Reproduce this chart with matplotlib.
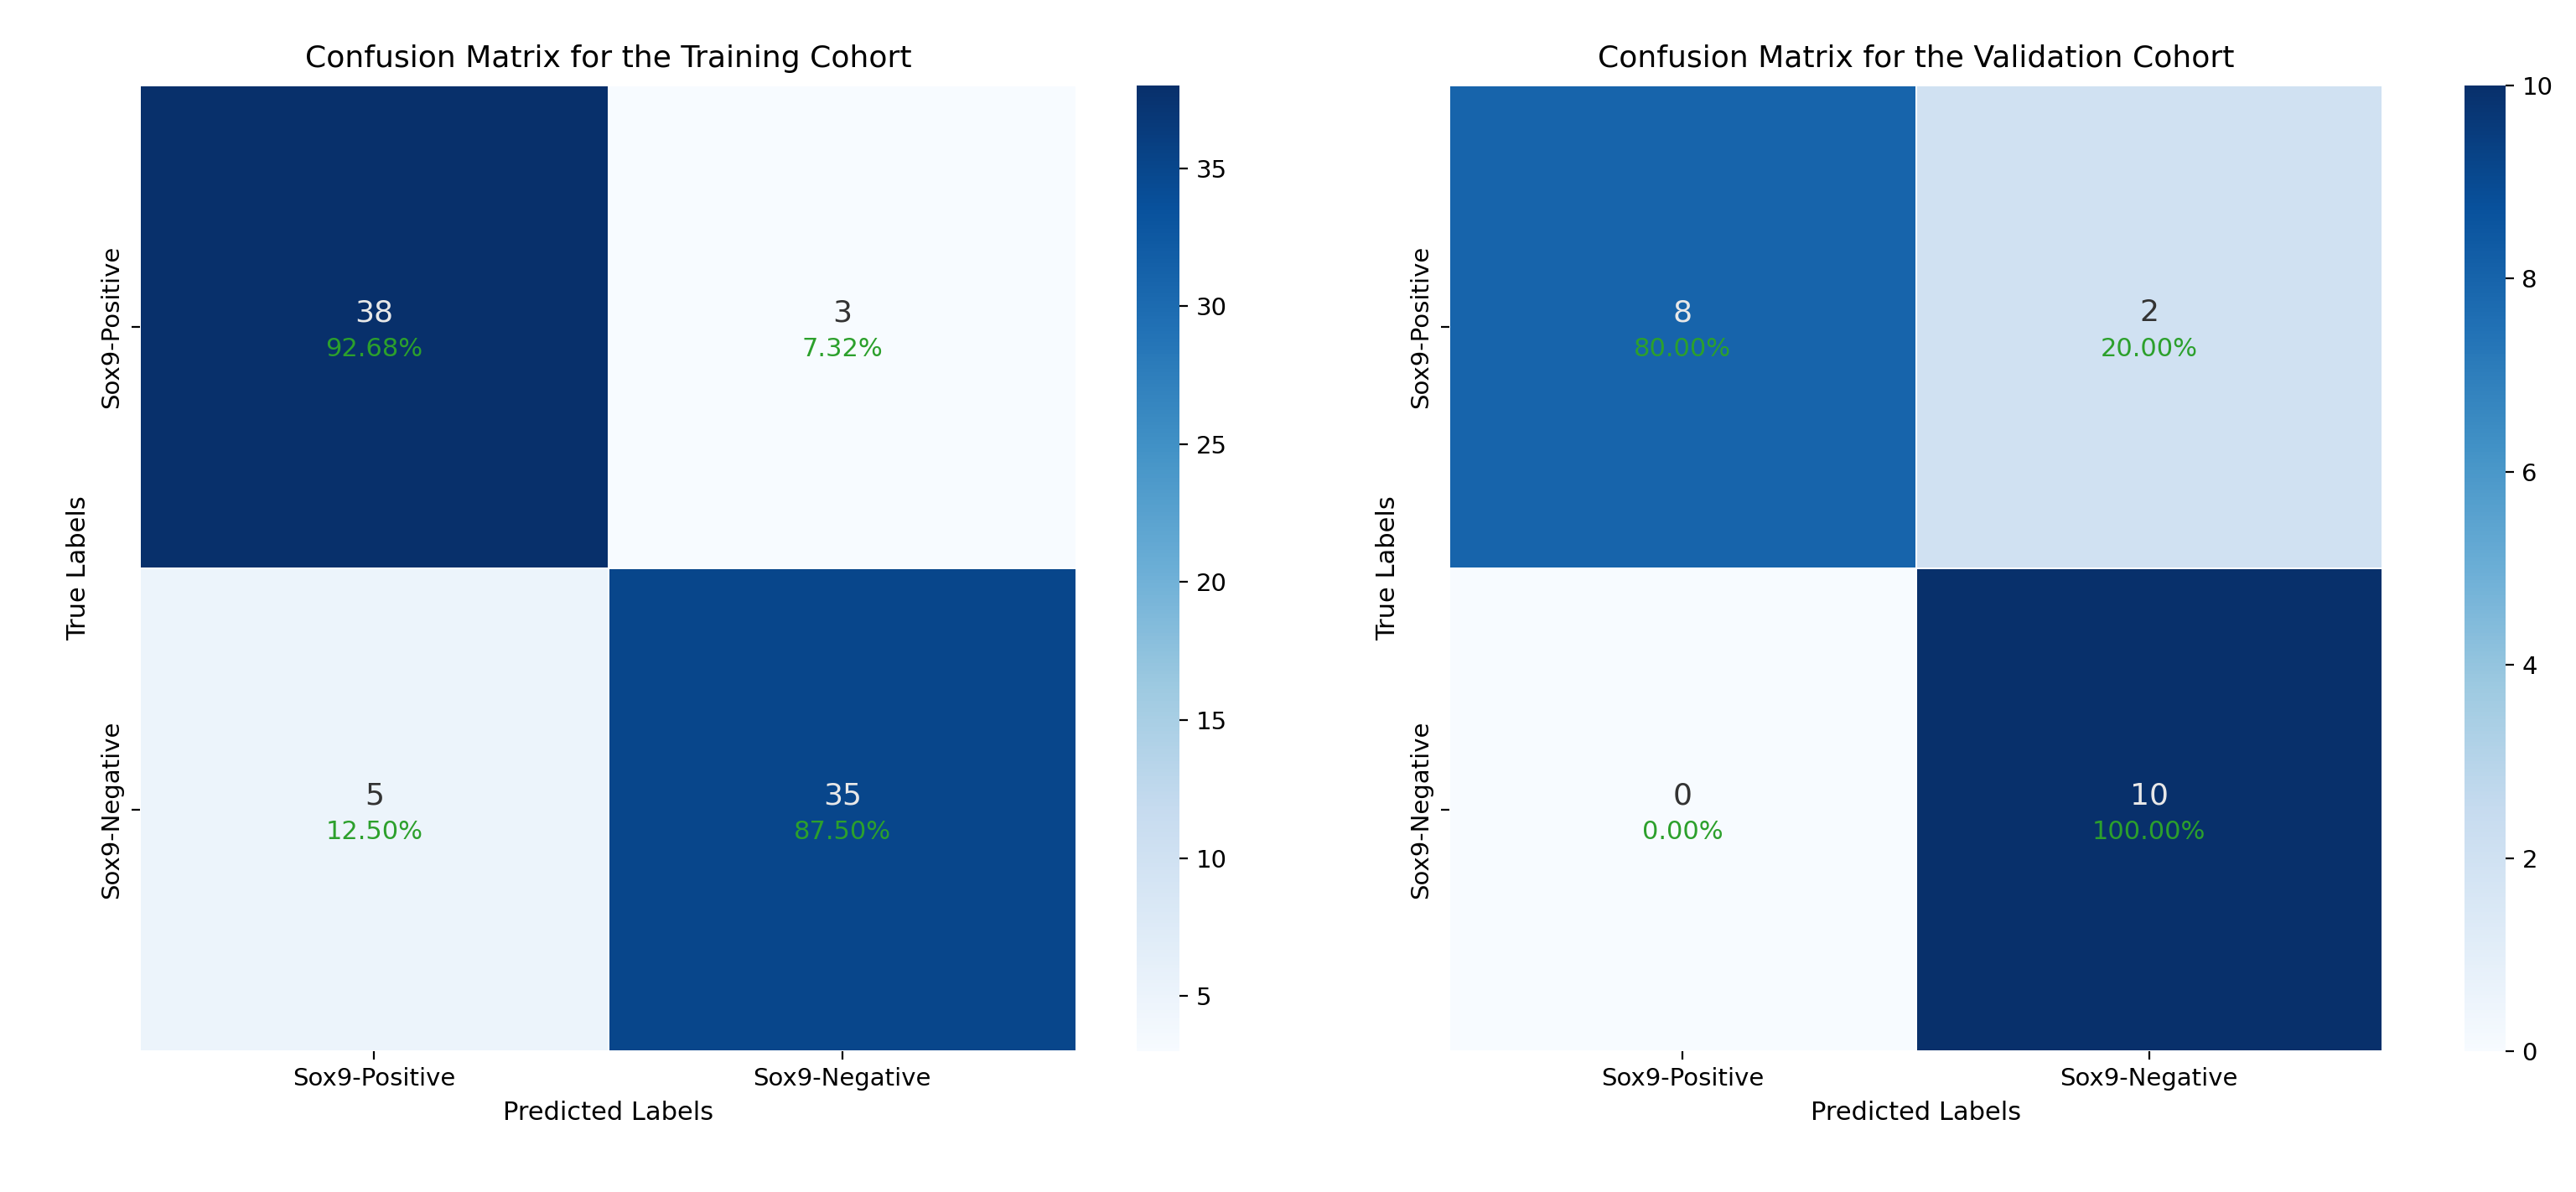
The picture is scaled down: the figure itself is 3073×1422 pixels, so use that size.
import matplotlib
matplotlib.use("Agg")
import matplotlib.pyplot as plt
import numpy as np

labels = ["Sox9-Positive", "Sox9-Negative"]
train = [[38, 3], [5, 35]]
valid = [[8, 2], [0, 10]]
titles = ["Confusion Matrix for the Training Cohort", "Confusion Matrix for the Validation Cohort"]

fig = plt.figure(figsize=(15.365, 7.11), dpi=200)
W, H = 3073, 1422
axes_px = [(167, 102, 1284, 1254, 1356, 1407), (1729, 102, 2842, 1254, 2940, 2989)]
cmap = plt.get_cmap("Blues")
for data, title, (x0, y0, x1, y1, c0, c1) in zip([train, valid], titles, axes_px):
    d = np.array(data)
    ax = fig.add_axes([x0 / W, 1 - y1 / H, (x1 - x0) / W, (y1 - y0) / H])
    cax = fig.add_axes([c0 / W, 1 - y1 / H, (c1 - c0) / W, (y1 - y0) / H])
    vmin, vmax = d.min(), d.max()
    m = ax.pcolormesh(d, cmap=cmap, vmin=vmin, vmax=vmax, edgecolor="white", linewidth=0.6)
    ax.set_xlim(0, 2); ax.set_ylim(2, 0)
    for s in ax.spines.values():
        s.set_visible(False)
    rows = d.sum(axis=1)
    for i in range(2):
        for j in range(2):
            v = d[i, j]
            norm = (v - vmin) / (vmax - vmin)
            tc = "#e8e8e8" if norm > 0.6 else "#333333"
            ax.text(j + 0.5, i + 0.5, str(v), ha="center", va="bottom", fontsize=13, color=tc)
            ax.text(j + 0.5, i + 0.52, f"{100 * v / rows[i]:.2f}%", ha="center", va="top", fontsize=11, color="#2ca02c")
    ax.set_xticks([0.5, 1.5]); ax.set_xticklabels(labels, fontsize=10.5)
    ax.set_yticks([0.5, 1.5]); ax.set_yticklabels(labels, fontsize=10.5, rotation=90, va="center")
    ax.set_xlabel("Predicted Labels", fontsize=11)
    ax.set_ylabel("True Labels", fontsize=11)
    ax.set_title(title, fontsize=13, pad=8)
    cb = fig.colorbar(m, cax=cax)
    cb.outline.set_visible(False)
    cb.ax.tick_params(labelsize=10.5)
fig.savefig("out.png", dpi=200)
